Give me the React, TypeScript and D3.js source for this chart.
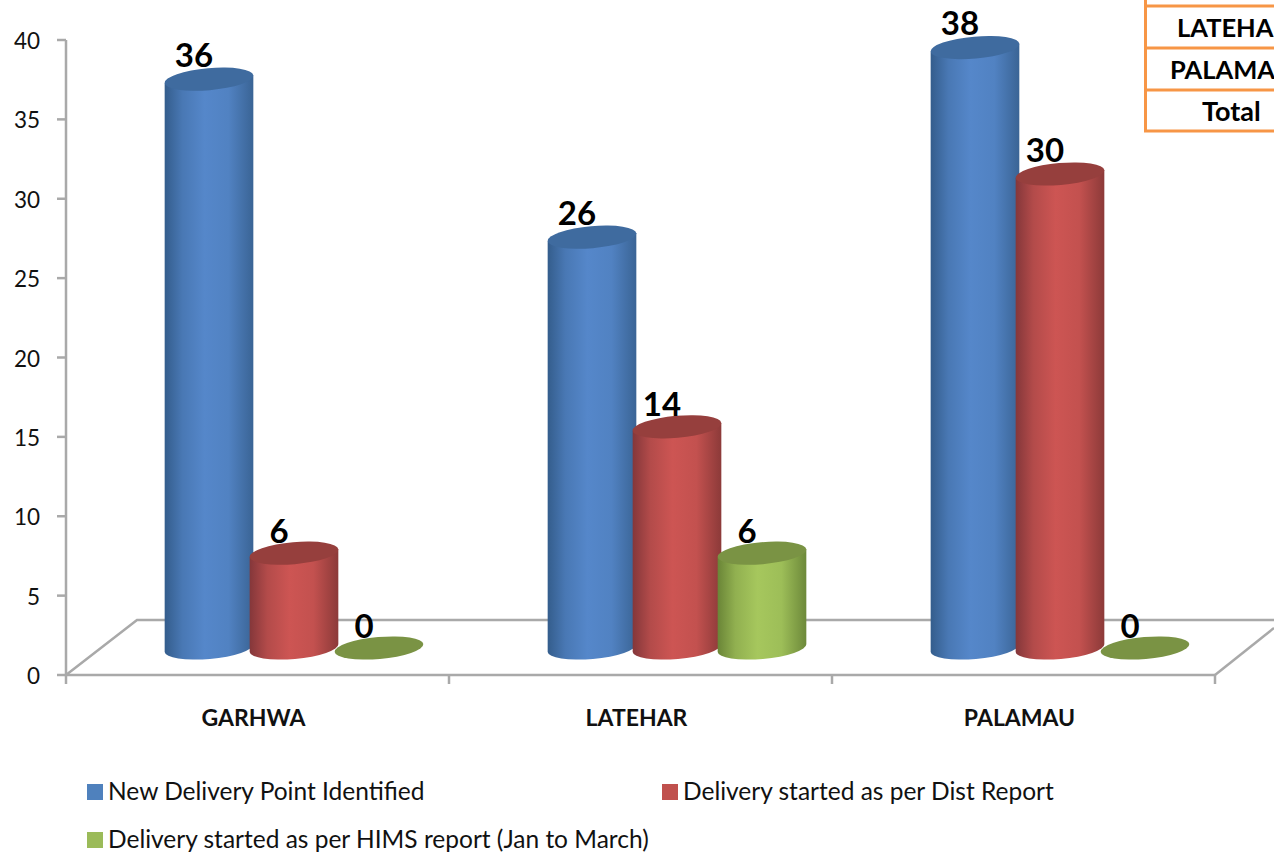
import * as d3 from 'd3'

const categories = ['GARHWA', 'LATEHAR', 'PALAMAU']
const seriesNames = [
  'New Delivery Point Identified',
  'Delivery started as per Dist Report',
  'Delivery started as per HIMS report (Jan to March)',
]
const newPoints = [36, 26, 38]
const distReport = [6, 14, 30]
const himsReport = [0, 6, 0]
const yTicks = [0, 5, 10, 15, 20, 25, 30, 35, 40]
const tableRows = ['LATEHA', 'PALAMA', 'Total']

const W = 1274, H = 854
const font = 'Lato, "Noto Sans", sans-serif'
const grey = '#a9a9a9'
const orange = '#f79646'

const palette = [
  { id: 'blue', edgeL: '#345d8c', mid: '#5587ca', edgeR: '#3a6495', top: '#3f6b9f', legend: '#4f81bd' },
  { id: 'red', edgeL: '#84373a', mid: '#cd5553', edgeR: '#8c3a39', top: '#963f3d', legend: '#c0504d' },
  { id: 'green', edgeL: '#6a8537', mid: '#a6c75d', edgeR: '#6d893a', top: '#7a9344', legend: '#9bbb59' },
]
const series = [newPoints, distReport, himsReport]

const x = d3.scaleBand<string>().domain(categories).range([66, 1215])
const y = d3.scaleLinear().domain([0, 40]).range([675, 40])
// bars stand on the pushed-back floor, so they get their own scale
const yBar = d3.scaleLinear().domain([0, 40]).range([648, 16])

const depthX = 36.5, depthY = 27
const barStep = 85
const rx = 44.5, ry = 11, tilt = -5

const dx = rx * Math.cos(tilt * Math.PI / 180)
const dy = rx * Math.sin(tilt * Math.PI / 180)

function cylinder(cx: number, top: number, bottom: number) {
  return `M${cx - dx},${top - dy} L${cx - dx},${bottom - dy} ` +
    `A${rx},${ry} ${tilt} 0 0 ${cx + dx},${bottom + dy} L${cx + dx},${top + dy} Z`
}

const barX = (s: number, i: number) => x(categories[i])! + x.bandwidth() / 2 + depthX + (s - 1) * barStep

export default function App() {
  const floor = yBar(0)
  const ax = 66, axR = 1215, ay = y(0)
  return (
    <svg width={W} height={H} viewBox={`0 0 ${W} ${H}`}
      style={{ position: 'absolute', left: 0, top: 0, display: 'block', background: '#fff', fontFamily: font }}>
      <defs>
        {palette.map(p => (
          <linearGradient key={p.id} id={`g-${p.id}`} x1="0" x2="1" y1="0" y2="0">
            <stop offset="0" stopColor={p.edgeL} />
            <stop offset="0.2" stopColor={d3.interpolateRgb(p.edgeL, p.mid)(0.65)} />
            <stop offset="0.45" stopColor={p.mid} />
            <stop offset="0.72" stopColor={d3.interpolateRgb(p.edgeR, p.mid)(0.85)} />
            <stop offset="1" stopColor={p.edgeR} />
          </linearGradient>
        ))}
      </defs>

      {/* floor + axes */}
      <g stroke={grey} strokeWidth={2.5} fill="none">
        <path d={`M${ax},${ay} L137,620 L${W},620`} />
        <path d={`M${axR},${ay} L${W},628`} />
        <path d={`M${ax},${y(40)} L${ax},${ay} L${axR},${ay}`} />
        {yTicks.map(t => <path key={t} d={`M57,${y(t)} L${ax},${y(t)}`} />)}
        {[...categories.map(c => x(c)!), axR].map(v => <path key={v} d={`M${v},${ay} L${v},684`} />)}
      </g>
      {yTicks.map(t => (
        <text key={t} x={40} y={y(t) + 9} textAnchor="end" fontSize={22.5} fill="#111">{t}</text>
      ))}

      {/* cylinders */}
      {series.map((vals, s) => vals.map((v, i) => {
        const p = palette[s]
        const cx = barX(s, i)
        const top = yBar(v)
        return (
          <g key={`${s}-${i}`}>
            {v > 0 && <path d={cylinder(cx, top, floor)} fill={`url(#g-${p.id})`} />}
            <ellipse cx={cx} cy={top} rx={rx} ry={ry} fill={p.top}
              transform={`rotate(${tilt} ${cx} ${top})`} />
          </g>
        )
      }))}
      {series.map((vals, s) => vals.map((v, i) => (
        <text key={`${s}-${i}`} x={barX(s, i) - 15} y={y(v) - depthY - 10} textAnchor="middle"
          fontSize={33} fontWeight={700} fill="#000">{v}</text>
      )))}

      {/* category labels */}
      {categories.map(c => (
        <text key={c} x={x(c)! + x.bandwidth() / 2 - 4} y={726} textAnchor="middle"
          fontSize={23} fontWeight={700} fill="#111">{c}</text>
      ))}

      {/* legend */}
      {seriesNames.map((n, i) => {
        const lx = i === 1 ? 662 : 87
        const ly = i === 2 ? 832 : 784
        return (
          <g key={n}>
            <rect x={lx} y={ly} width={16} height={16} fill={palette[i].legend} />
            <text x={lx + 21} y={ly + 16} fontSize={24.5} fill="#111">{n}</text>
          </g>
        )
      })}

      {/* piece of the table overlapping the chart corner */}
      <g stroke={orange} strokeWidth={3} fill="none">
        <path d="M1145.5,0 L1145.5,131" />
        {[6, 48, 90, 131].map(v => <path key={v} d={`M1144,${v} L${W},${v}`} />)}
      </g>
      {tableRows.map((r, i) => (
        <text key={r} x={r === 'Total' ? 1202 : r === 'LATEHA' ? 1177 : 1170} y={37 + i * 42}
          fontSize={r === 'Total' ? 27 : 25.5} fontWeight={700} fill="#000">{r}</text>
      ))}
    </svg>
  )
}
